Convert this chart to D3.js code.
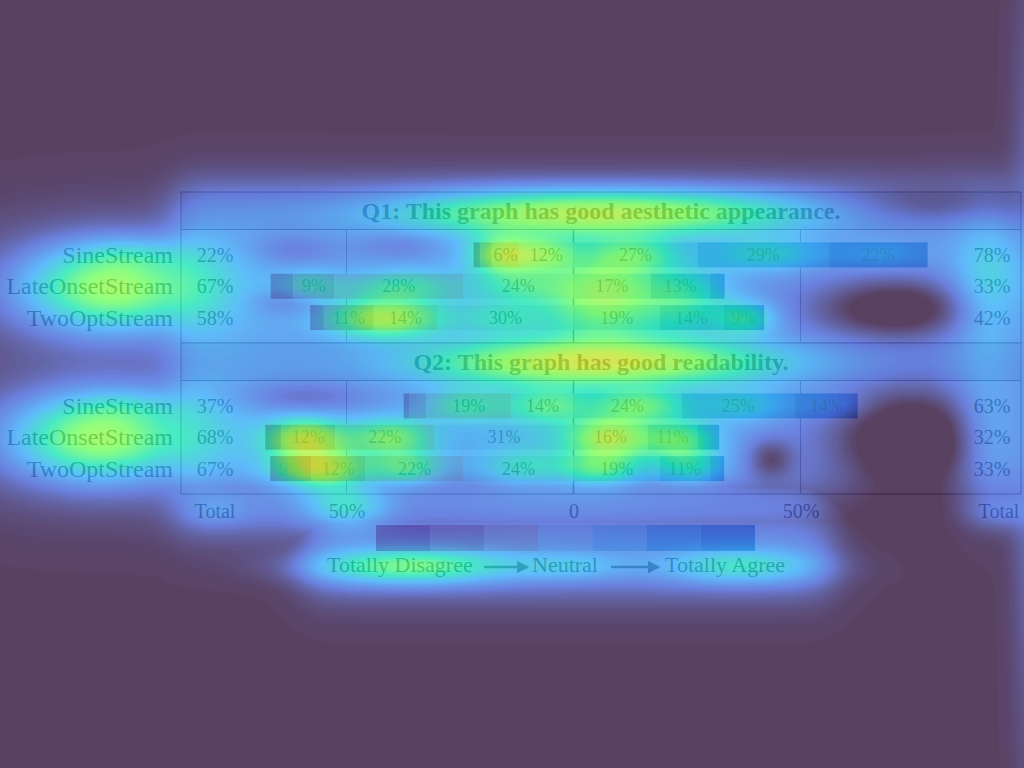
<!DOCTYPE html>
<html><head><meta charset="utf-8">
<script src="https://cdn.jsdelivr.net/npm/d3@7"></script>
<style>
html,body{margin:0;padding:0;background:#fff;}
#wrap{position:relative;width:1024px;height:768px;overflow:hidden;background:#fff;}
svg,canvas{position:absolute;left:0;top:0;}
canvas{pointer-events:none;}
text{font-family:"Liberation Serif","Times New Roman",serif;}
</style></head><body>
<div id="wrap"><svg id="chart" width="1024" height="768"></svg><canvas id="heat" width="1024" height="768"></canvas></div>
<script>
// ---------- chart data ----------
const questions = ["Q1: This graph has good aesthetic appearance.", "Q2: This graph has good readability."];
const categories = ["SineStream", "LateOnsetStream", "TwoOptStream"];
const levels = ["Totally Disagree", "Disagree", "Somewhat Disagree", "Neutral", "Somewhat Agree", "Agree", "Totally Agree"];
// percentages per level (levels 1-4 drawn left of 0, levels 5-7 right of 0)
const q1SineStream      = [1.5, 2.5, 6, 12, 27.3, 29, 21.7];
const q1LateOnsetStream = [5, 9, 28.4, 24.3, 17, 13, 3.3];
const q1TwoOptStream    = [3, 11, 14, 30, 19, 14, 9];
const q2SineStream      = [1.3, 3.7, 18.7, 13.7, 23.8, 25, 13.8];
const q2LateOnsetStream = [3.5, 11.9, 21.9, 30.6, 16.3, 11.1, 4.7];
const q2TwoOptStream    = [9, 12, 21.6, 24.2, 19, 11, 3.2];
const tickValues = [-50, 0, 50];
const tickLabels = ["50%", "0", "50%"];
const legendLabels = ["Totally Disagree", "Neutral", "Totally Agree"];
const palette = ["#B2182B", "#D6604D", "#F4A582", "#DADADA", "#92C5DE", "#4393C3", "#2166AC"];

// ---------- attention overlay hotspots [x, y, sigmaX, sigmaY, weight] ----------
const heatSpots = [
  [520,212,100,16,0.25],[680,212,100,16,0.25],[530,362,90,16,0.25],[670,362,90,16,0.25],
  [112,287,62,30,0.40],[120,287,120,50,0.08],[135,254,40,12,0.06],
  [100,437,62,30,0.40],[115,437,120,50,0.08],[135,405,40,12,0.05],
  [993,287,28,45,0.16],[993,437,28,45,0.14],[998,512,25,12,0.08],
  [560,290,80,40,0.1],[560,440,80,40,0.1],
  [505,254,24,14,0.3],[548,254,20,12,0.15],[310,286,22,12,0.12],[400,286,38,12,0.16],
  [520,286,32,12,0.1],[385,318,40,14,0.32],[500,318,30,12,0.1],[605,295,38,32,0.25],
  [635,254,30,12,0.15],[685,300,32,24,0.17],[745,318,22,12,0.18],[765,254,38,12,0.14],[880,254,30,10,0.06],
  [465,405,28,12,0.14],[548,405,28,12,0.16],[305,437,28,14,0.32],[390,437,30,14,0.25],
  [318,468,32,14,0.36],[405,468,26,12,0.2],[520,468,28,12,0.1],
  [640,405,32,12,0.22],[740,405,32,12,0.12],[830,405,25,9,0.05],
  [610,437,28,14,0.3],[680,440,26,14,0.24],[600,468,28,12,0.2],[690,468,24,12,0.15],
  [346,505,28,16,0.18],[215,512,20,10,0.04],
  [410,566,70,12,0.28],[570,566,40,10,0.1],[740,566,55,12,0.18],
  [1032,380,14,260,0.09],
  [895,308,60,22,-0.2],[915,440,60,38,-0.24],[770,458,16,14,-0.12],
  [290,250,30,12,-0.06],[400,244,30,10,-0.05],[290,302,28,10,-0.07],
  [300,397,45,12,-0.08],[930,205,70,14,-0.08]
];
const heatBase = [[176,1016,186,492,0.15],[176,830,480,528,0.15],[305,830,515,592,0.15]];
const turboStops = ["#30123b","#4662d7","#36aaf9","#1ae4b6","#72fe5e","#c8ef34","#faba39","#f66b19","#cb2a04","#7a0403"];

// ---------- chart ----------
const svg = d3.select("#chart");
const rows = [
  [q1SineStream, q1LateOnsetStream, q1TwoOptStream],
  [q2SineStream, q2LateOnsetStream, q2TwoOptStream]
];
const x = d3.scaleLinear().domain([-50, 50]).range([346.5, 800.5]);
const color = d3.scaleOrdinal().domain(levels).range(palette);
const boxX0 = 181, boxX1 = 1021;
const stripH = 37.5, boxH = 113.5, panelTop0 = 192;
const barH = 25;

questions.forEach((q, qi) => {
  const top = panelTop0 + qi * (stripH + boxH);
  const boxTop = top + stripH, boxBot = boxTop + boxH;
  const g = svg.append("g");
  g.append("rect").attr("x", boxX0).attr("y", top).attr("width", boxX1 - boxX0).attr("height", stripH)
    .attr("fill", "#e2e2e2").attr("stroke", "#555").attr("stroke-width", 1);
  g.append("text").attr("x", (boxX0 + boxX1) / 2).attr("y", top + stripH / 2 + 8)
    .attr("text-anchor", "middle").attr("font-size", 24).attr("font-weight", "bold").attr("fill", "#222").text(q);
  g.append("rect").attr("x", boxX0).attr("y", boxTop).attr("width", boxX1 - boxX0).attr("height", boxH)
    .attr("fill", "#fff").attr("stroke", "#555").attr("stroke-width", 1);
  g.selectAll(".grid").data(tickValues).join("line")
    .attr("x1", d => x(d)).attr("x2", d => x(d)).attr("y1", boxTop).attr("y2", boxBot)
    .attr("stroke", d => d === 0 ? "#444" : "#777").attr("stroke-width", d => d === 0 ? 1.6 : 1);
  const y = d3.scalePoint().domain(categories).range([boxTop, boxBot]).padding(0.81);
  categories.forEach((cat, ci) => {
    const vals = rows[qi][ci];
    const leftTot = d3.sum(vals.slice(0, 4));
    const rightTot = d3.sum(vals.slice(4));
    let cum = -leftTot;
    const segs = vals.map((v, li) => { const s = {v, li, x0: cum, x1: cum + v}; cum += v; return s; });
    const cy = y(cat);
    g.selectAll(null).data(segs).join("rect")
      .attr("x", d => x(d.x0)).attr("width", d => x(d.x1) - x(d.x0))
      .attr("y", cy - barH / 2).attr("height", barH)
      .attr("fill", d => color(levels[d.li]));
    g.selectAll(null).data(segs.filter(d => d.v >= 5.5)).join("text")
      .attr("x", d => (x(d.x0) + x(d.x1)) / 2).attr("y", cy + 6)
      .attr("text-anchor", "middle").attr("font-size", 18).attr("fill", "#222")
      .text(d => Math.round(d.v) + "%");
    g.append("text").attr("x", 173).attr("y", cy + 8).attr("text-anchor", "end")
      .attr("font-size", 24).attr("fill", "#222").text(cat);
    g.append("text").attr("x", 215).attr("y", cy + 7).attr("text-anchor", "middle")
      .attr("font-size", 20).attr("fill", "#222").text(Math.round(leftTot) + "%");
    g.append("text").attr("x", 992).attr("y", cy + 7).attr("text-anchor", "middle")
      .attr("font-size", 20).attr("fill", "#222").text(Math.round(rightTot) + "%");
  });
});

// bottom axis
const axisY = panelTop0 + 2 * (stripH + boxH);
const axis = d3.axisBottom(x).tickValues(tickValues).tickFormat((d, i) => tickLabels[i]).tickSize(0).tickPadding(10);
const ax = svg.append("g").attr("transform", `translate(0,${axisY})`).call(axis);
ax.select(".domain").remove();
ax.selectAll("text").attr("font-size", 20).attr("fill", "#222").attr("font-family", '"Liberation Serif", serif');
svg.append("text").attr("x", 215).attr("y", axisY + 24).attr("text-anchor", "middle").attr("font-size", 20).attr("fill", "#222").text("Total");
svg.append("text").attr("x", 999).attr("y", axisY + 24).attr("text-anchor", "middle").attr("font-size", 20).attr("fill", "#222").text("Total");

// legend
const lx = d3.scaleBand().domain(levels).range([376, 755]);
svg.selectAll(".leg").data(levels).join("rect")
  .attr("x", d => lx(d)).attr("width", lx.bandwidth()).attr("y", 525).attr("height", 26)
  .attr("fill", d => color(d));
const defs = svg.append("defs");
defs.append("marker").attr("id", "arr").attr("viewBox", "0 0 10 10").attr("refX", 9).attr("refY", 5)
  .attr("markerWidth", 5).attr("markerHeight", 5).attr("orient", "auto")
  .append("path").attr("d", "M0,0L10,5L0,10Z").attr("fill", "#333");
const legText = [327, 532, 665];
legendLabels.forEach((t, i) => {
  svg.append("text").attr("x", legText[i]).attr("y", 572).attr("font-size", 22).attr("fill", "#222").text(t);
});
[[484, 528], [611, 659]].forEach(a => {
  svg.append("line").attr("x1", a[0]).attr("x2", a[1]).attr("y1", 567).attr("y2", 567)
    .attr("stroke", "#333").attr("stroke-width", 2.5).attr("marker-end", "url(#arr)");
});

// ---------- attention overlay ----------
(function drawHeat() {
  const W = 1024, H = 768;
  const field = new Float32Array(W * H);
  const sig = z => 1 / (1 + Math.exp(-z));
  heatBase.forEach(([x0, x1, y0, y1, a]) => {
    const e = 12;
    for (let yy = Math.max(0, y0 - 80); yy < Math.min(H, y1 + 80); yy++) {
      const fy = sig((yy - y0) / e) * sig((y1 - yy) / e);
      for (let xx = Math.max(0, x0 - 80); xx < Math.min(W, x1 + 80); xx++) {
        const v = a * fy * sig((xx - x0) / e) * sig((x1 - xx) / e);
        const k = yy * W + xx;
        if (v > field[k]) field[k] = v;
      }
    }
  });
  heatSpots.forEach(([cx, cy, sx, sy, a]) => {
    const xa = Math.max(0, Math.floor(cx - 3.5 * sx)), xb = Math.min(W, Math.ceil(cx + 3.5 * sx));
    const ya = Math.max(0, Math.floor(cy - 3.5 * sy)), yb = Math.min(H, Math.ceil(cy + 3.5 * sy));
    for (let yy = ya; yy < yb; yy++) {
      const dy = (yy - cy) / sy;
      const ey = Math.exp(-0.5 * dy * dy);
      for (let xx = xa; xx < xb; xx++) {
        const dx = (xx - cx) / sx;
        field[yy * W + xx] += a * ey * Math.exp(-0.5 * dx * dx);
      }
    }
  });
  const cmap = d3.scaleLinear().domain(d3.range(10).map(i => i / 9)).range(turboStops).interpolate(d3.interpolateRgb).clamp(true);
  const lut = [];
  for (let i = 0; i <= 255; i++) { const c = d3.rgb(cmap(i / 255)); lut.push([c.r, c.g, c.b]); }
  const ctx = document.getElementById("heat").getContext("2d");
  const img = ctx.createImageData(W, H);
  for (let k = 0; k < W * H; k++) {
    const t = Math.min(0.62, Math.max(0, field[k]));
    const c = lut[Math.round(t * 255)];
    img.data[4 * k] = c[0]; img.data[4 * k + 1] = c[1]; img.data[4 * k + 2] = c[2]; img.data[4 * k + 3] = 204;
  }
  ctx.putImageData(img, 0, 0);
})();
</script>
</body></html>
